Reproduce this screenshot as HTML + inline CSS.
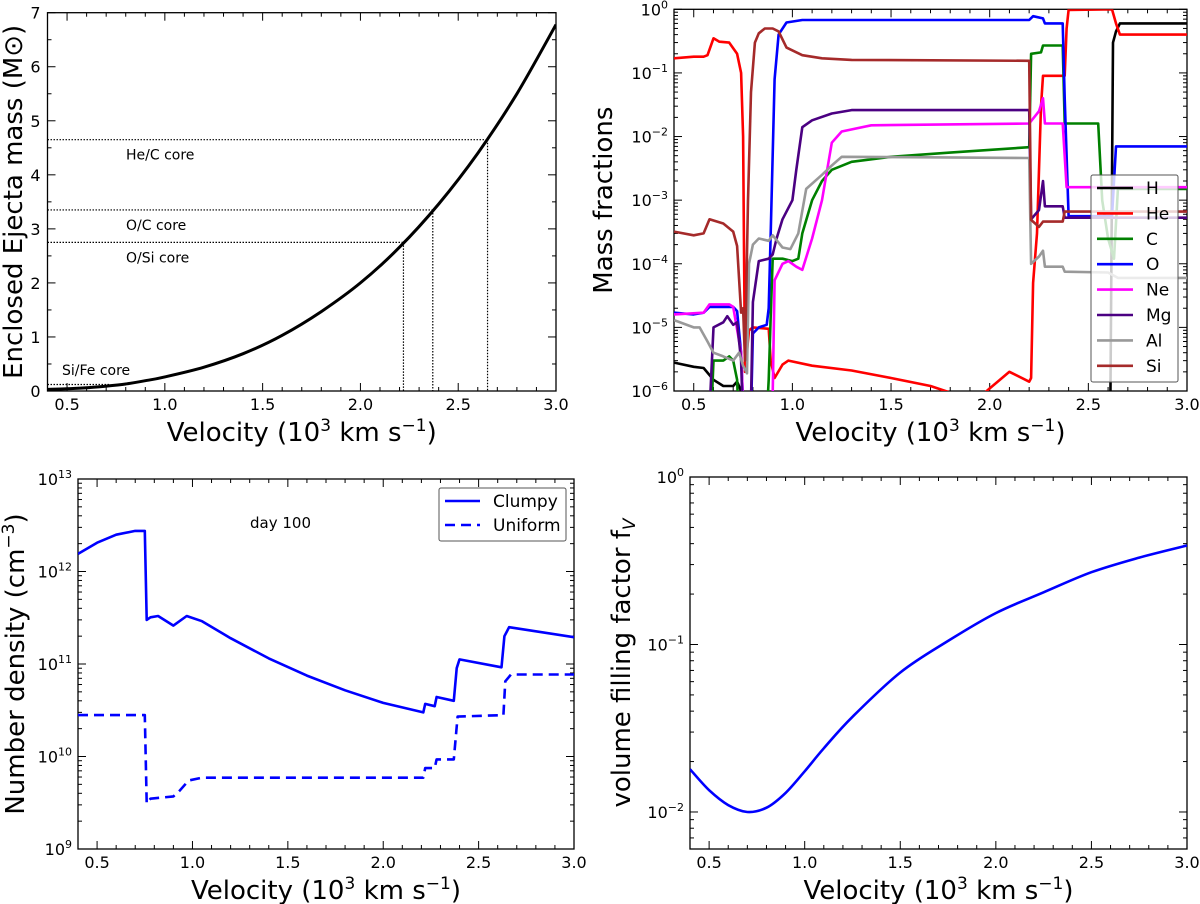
<!DOCTYPE html>
<html><head><meta charset="utf-8">
<style>
html,body{margin:0;padding:0;background:#fff;}
svg{display:block;font-family:"DejaVu Sans","Liberation Sans",sans-serif;}
</style></head>
<body>
<svg id="fig" width="1200" height="904" viewBox="0 0 1200 904" xmlns="http://www.w3.org/2000/svg"></svg>
<script>
// ---------- Panel 1: enclosed mass ----------
const massV = [0.4,0.5,0.6,0.7,0.8,0.9,1.0,1.2,1.4,1.6,1.8,2.0,2.2,2.4,2.6,2.8,3.0];
const massM = [0.03,0.04,0.06,0.09,0.13,0.19,0.26,0.44,0.69,1.03,1.47,2.0,2.66,3.46,4.4,5.5,6.78];
const coreNames = ["He/C core","O/C core","O/Si core"];
const coreV = [2.65,2.37,2.22];
const coreM = [4.65,3.35,2.75];
const siFeV = 0.72;
const siFeM = 0.12;
// ---------- Panel 2: mass fractions ----------
const elemNames = ["H","He","C","O","Ne","Mg","Al","Si"];
const hV = [0.4,0.5,0.55,0.6,0.65,0.7,0.72,0.74,0.76,2.61,2.625,2.64,2.66,3.0];
const hX = [2.8e-6,2.4e-6,2.3e-6,1.5e-6,1.2e-6,1.2e-6,1.4e-6,1e-6,1e-7,1e-7,0.3,0.45,0.6,0.6];
const heV = [0.4,0.5,0.55,0.57,0.6,0.63,0.68,0.72,0.74,0.75,0.76,0.78,0.8,0.88,0.89,0.91,0.95,0.98,1.1,1.3,1.5,1.7,1.82,1.95,2.0,2.1,2.2,2.21,2.22,2.24,2.26,2.27,2.38,2.39,2.4,2.62,2.64,2.66,3.0];
const heX = [0.17,0.18,0.18,0.19,0.35,0.31,0.30,0.20,0.10,0.01,2e-6,9e-6,1e-5,9.5e-6,3e-6,1.6e-6,2.6e-6,3e-6,2.5e-6,2.1e-6,1.6e-6,1.2e-6,9e-7,8e-7,1.1e-6,2e-6,1.4e-6,1.6e-6,5e-5,3e-4,0.03,0.09,0.09,0.5,0.98,1.0,0.6,0.4,0.4];
const cV = [0.58,0.6,0.65,0.68,0.7,0.72,0.735,0.86,0.88,0.89,0.9,0.95,1.0,1.03,1.05,1.1,1.15,1.2,1.3,1.5,1.8,2.2,2.21,2.26,2.27,2.37,2.38,2.55,2.57,2.6,2.63,2.65,3.0];
const cX = [1e-7,3e-6,3e-6,3.5e-6,3e-6,1.5e-6,1e-7,1e-7,1.5e-6,1.5e-5,1.2e-4,1.2e-4,1.1e-4,1.2e-4,3e-4,1e-3,2e-3,3e-3,4e-3,4.8e-3,5.6e-3,6.8e-3,0.2,0.21,0.27,0.27,0.016,0.016,1e-3,2.5e-4,1.2e-4,1.5e-3,1.5e-3];
const oV = [0.4,0.5,0.55,0.58,0.7,0.72,0.74,0.76,0.785,0.8,0.83,0.87,0.88,0.89,0.91,0.93,0.97,1.05,2.2,2.22,2.27,2.28,2.37,2.38,2.4,2.55,2.62,2.64,3.0];
const oX = [1.7e-5,1.6e-5,1.7e-5,2.1e-5,2.1e-5,1.8e-5,4e-6,1e-7,1e-7,8e-6,1e-5,1.1e-5,2e-5,3e-4,0.08,0.4,0.62,0.68,0.68,0.78,0.72,0.6,0.6,0.04,5.6e-4,5.6e-4,5.6e-4,7e-3,7e-3];
const neV = [0.4,0.55,0.58,0.68,0.7,0.74,0.76,0.895,0.91,0.95,0.98,1.02,1.05,1.1,1.15,1.2,1.25,1.4,2.2,2.25,2.27,2.28,2.37,2.39,3.0];
const neX = [1.6e-5,1.7e-5,2.3e-5,2.3e-5,2.1e-5,4e-6,1e-7,1e-7,5.5e-5,1e-4,1.1e-4,9e-5,8e-5,2.5e-4,1e-3,8e-3,1.2e-2,1.5e-2,1.6e-2,2.5e-2,4e-2,1.6e-2,1.6e-2,1.6e-3,1.6e-3];
const mgV = [0.57,0.6,0.65,0.67,0.7,0.72,0.74,0.755,0.785,0.8,0.83,0.88,0.9,0.92,0.95,1.0,1.02,1.05,1.1,1.2,1.3,2.2,2.21,2.25,2.27,2.28,2.37,2.38,3.0];
const mgX = [1e-7,1e-5,1.2e-5,1.5e-5,1.1e-5,1.2e-5,3e-6,1e-7,1e-7,2.5e-5,1.1e-4,1.2e-4,1.4e-4,2.5e-4,5e-4,1e-3,3e-3,1.4e-2,1.8e-2,2.3e-2,2.6e-2,2.6e-2,5e-4,7e-4,2e-3,8e-4,8e-4,5.3e-4,5.3e-4];
const alV = [0.4,0.5,0.53,0.57,0.6,0.65,0.7,0.73,0.75,0.77,0.78,0.8,0.83,0.88,0.9,0.95,0.99,1.03,1.07,1.15,1.2,1.25,2.2,2.21,2.25,2.27,2.28,2.37,2.38,2.6,2.65,3.0];
const alX = [1.3e-5,1e-5,1e-5,6e-6,4e-6,3.5e-6,3e-6,4e-6,2.5e-6,1.9e-6,1e-4,2e-4,2.5e-4,2.3e-4,2.8e-4,1.8e-4,1.7e-4,3e-4,1.5e-3,2.5e-3,3.5e-3,4.8e-3,4.6e-3,1e-4,1.3e-4,1.6e-4,9e-5,9e-5,7.5e-5,7.3e-5,6e-5,6e-5];
const siV = [0.4,0.5,0.55,0.58,0.65,0.7,0.72,0.74,0.75,0.76,0.775,0.79,0.81,0.83,0.86,0.9,0.93,0.97,1.05,1.15,1.3,2.2,2.21,2.25,2.27,2.37,2.38,3.0];
const siX = [3.2e-4,2.8e-4,3e-4,5e-4,4.3e-4,3.2e-4,1.9e-4,1.7e-5,2e-5,3e-6,1e-3,0.05,0.3,0.42,0.5,0.5,0.45,0.25,0.19,0.17,0.16,0.155,4.9e-4,3.8e-4,4.6e-4,4.6e-4,6.6e-4,6.6e-4];
// ---------- Panel 3: number density ----------
const clumpyV = [0.4,0.5,0.6,0.7,0.75,0.76,0.78,0.82,0.9,0.97,1.05,1.2,1.4,1.6,1.8,2.0,2.21,2.22,2.27,2.28,2.37,2.385,2.4,2.62,2.635,2.66,3.0];
const clumpyN = [1.55e12,2.05e12,2.5e12,2.75e12,2.75e12,3e11,3.2e11,3.3e11,2.6e11,3.3e11,2.9e11,1.9e11,1.15e11,7.5e10,5.2e10,3.8e10,3.0e10,3.7e10,3.5e10,4.4e10,4.0e10,9e10,1.12e11,9.2e10,2.0e11,2.5e11,1.95e11];
const uniformV = [0.4,0.75,0.76,0.78,0.9,0.93,0.98,1.05,2.21,2.22,2.27,2.28,2.37,2.39,2.63,2.64,2.67,3.0];
const uniformN = [2.8e10,2.8e10,3.1e9,3.5e9,3.7e9,4.2e9,5.5e9,5.9e9,5.9e9,7.5e9,7.5e9,9.3e9,9.3e9,2.7e10,2.8e10,6.5e10,7.7e10,7.7e10];
// ---------- Panel 4: filling factor ----------
const fillV = [0.4,0.5,0.6,0.7,0.8,0.9,1.0,1.1,1.25,1.5,1.75,2.0,2.25,2.5,2.75,3.0];
const fillF = [0.018,0.0135,0.011,0.0100,0.0106,0.013,0.0175,0.024,0.037,0.068,0.105,0.154,0.205,0.27,0.33,0.39];
const xTicks = [0.5,1.0,1.5,2.0,2.5,3.0];
const xTickLabels = ["0.5","1.0","1.5","2.0","2.5","3.0"];

const NS = "http://www.w3.org/2000/svg";
const svg = document.getElementById('fig');
function mk(tag, attrs, parent){
  const e = document.createElementNS(NS, tag);
  for (const k in attrs) e.setAttribute(k, attrs[k]);
  (parent||svg).appendChild(e);
  return e;
}
function makeAxes(c){
  const g = mk('g', {});
  
  
  c.g = g;
  c.sx = v => c.x0 + (v - c.xmin) / (c.xmax - c.xmin) * (c.x1 - c.x0);
  c.sy = y => {
    const t = c.ylog ? Math.log10(y) : y;
    return c.y1 - (t - c.ymin) / (c.ymax - c.ymin) * (c.y1 - c.y0);
  };
  const cid = 'clip-' + c.name;
  const cp = mk('clipPath', {id: cid}, g);
  mk('rect', {x: c.x0, y: c.y0, width: c.x1 - c.x0, height: c.y1 - c.y0}, cp);
  c.clip = 'url(#' + cid + ')';
  const tg = mk('g', {stroke: '#000', 'stroke-width': 1}, g);
  
  
  for (let v = 0.4; v <= 3.0001; v += 0.1) {
    const px = c.sx(v);
    const maj = xTicks.some(t => Math.abs(t - v) < 1e-6);
    const L = maj ? 8 : 4;
    mk('line', {x1: px, x2: px, y1: c.y1, y2: c.y1 - L}, tg);
    mk('line', {x1: px, x2: px, y1: c.y0, y2: c.y0 + L}, tg);
  }
  xTicks.forEach((t, i) => {
    const tx = mk('text', {x: c.sx(t), y: c.y1 + 19, 'font-size': 16, 'text-anchor': 'middle'}, g);
    
    
    tx.textContent = xTickLabels[i];
  });
  if (!c.ylog) {
    for (let y = c.ymin; y <= c.ymax + 1e-6; y += 0.5) {
      const py = c.sy(y);
      const maj = Math.abs(y - Math.round(y)) < 1e-6;
      const L = maj ? 8 : 4;
      mk('line', {x1: c.x0, x2: c.x0 + L, y1: py, y2: py}, tg);
      mk('line', {x1: c.x1, x2: c.x1 - L, y1: py, y2: py}, tg);
      if (maj) {
        const tx = mk('text', {x: c.x0 - 7, y: py + 6, 'font-size': 16, 'text-anchor': 'end'}, g);
        
        
        tx.textContent = String(y);
      }
    }
  } else {
    for (let d = Math.floor(c.ymin); d <= c.ymax; d++) {
      for (let m = 1; m <= 9; m++) {
        const t = d + Math.log10(m);
        if (t < c.ymin - 1e-6 || t > c.ymax + 1e-6) continue;
        const py = c.sy(Math.pow(10, t));
        const L = m === 1 ? 8 : 4;
        mk('line', {x1: c.x0, x2: c.x0 + L, y1: py, y2: py}, tg);
        mk('line', {x1: c.x1, x2: c.x1 - L, y1: py, y2: py}, tg);
        if (m === 1) {
          const tx = mk('text', {x: c.x0 - 6, y: py + 6, 'font-size': 16, 'text-anchor': 'end'}, g);
          
          
          tx.appendChild(document.createTextNode('10'));
          const sp = mk('tspan', {dy: -7, 'font-size': 11}, tx);
          sp.textContent = d === 0 ? '0' : (d < 0 ? '\u2212' + (-d) : String(d));
        }
      }
    }
  }
  const fr = mk('rect', {x: c.x0, y: c.y0, width: c.x1 - c.x0, height: c.y1 - c.y0, fill: 'none', stroke: '#000', 'stroke-width': 1.3}, g);
  
  
  const xl = mk('text', {x: (c.x0 + c.x1) / 2, y: c.y1 + 50, 'font-size': 26, 'text-anchor': 'middle'}, g);
  
  
  xl.appendChild(document.createTextNode('Velocity (10'));
  let s1 = mk('tspan', {dy: -10, 'font-size': 17}, xl); s1.textContent = '3';
  let s2 = mk('tspan', {dy: 10}, xl); s2.textContent = ' km s';
  let s3 = mk('tspan', {dy: -10, 'font-size': 17}, xl); s3.textContent = '\u22121';
  let s4 = mk('tspan', {dy: 10}, xl); s4.textContent = ')';
  const yc = (c.y0 + c.y1) / 2;
  const yl = mk('text', {x: 0, y: 0, 'font-size': 26, 'text-anchor': 'middle', transform: 'translate(' + c.ylx + ',' + yc + ') rotate(-90)'}, g);
  
  
  c.ylabel(yl);
  return c;
}
function line(c, vs, ys, color, name, extra, smooth){
  const n = Math.min(vs.length, ys.length);
  const P = [];
  for (let i = 0; i < n; i++) P.push([c.sx(vs[i]), c.sy(ys[i])]);
  let d = 'M' + P[0][0].toFixed(1) + ',' + P[0][1].toFixed(1);
  for (let i = 1; i < n; i++) {
    if (smooth) {
      const p0 = P[Math.max(0, i - 2)], p1 = P[i - 1], p2 = P[i], p3 = P[Math.min(n - 1, i + 1)];
      const c1x = p1[0] + (p2[0] - p0[0]) / 6, c1y = p1[1] + (p2[1] - p0[1]) / 6;
      const c2x = p2[0] - (p3[0] - p1[0]) / 6, c2y = p2[1] - (p3[1] - p1[1]) / 6;
      d += 'C' + c1x.toFixed(1) + ',' + c1y.toFixed(1) + ' ' + c2x.toFixed(1) + ',' + c2y.toFixed(1) + ' ' + p2[0].toFixed(1) + ',' + p2[1].toFixed(1);
    } else {
      d += 'L' + P[i][0].toFixed(1) + ',' + P[i][1].toFixed(1);
    }
  }
  const attrs = {d: d, fill: 'none', stroke: color, 'stroke-width': 2.6, 'stroke-linejoin': 'round', 'clip-path': c.clip};
  for (const k in (extra || {})) attrs[k] = extra[k];
  const p = mk('path', attrs, c.g);
  
  
  return p;
}
function txt(parent, x, y, s, size, name, anchor){
  const t = mk('text', {x: x, y: y, 'font-size': size, 'text-anchor': anchor || 'start'}, parent);
  
  
  t.textContent = s;
  return t;
}

// ===== Panel 1 =====
const p1 = makeAxes({name: 'panel-enclosed-mass', x0: 47.5, x1: 556, y0: 12.7, y1: 391, xmin: 0.4, xmax: 3.0, ymin: 0, ymax: 7, ylog: false, ylx: 22,
  ylabel: t => { t.textContent = 'Enclosed Ejecta mass (M\u2299)'; }});
coreV.forEach((v, i) => {
  const hl = mk('line', {x1: p1.sx(0.4), x2: p1.sx(v), y1: p1.sy(coreM[i]), y2: p1.sy(coreM[i]), stroke: '#000', 'stroke-width': 1.2, 'stroke-dasharray': '1.5,1.5'}, p1.g);
  
  
  const vl = mk('line', {x1: p1.sx(v), x2: p1.sx(v), y1: p1.sy(coreM[i]), y2: p1.sy(0), stroke: '#000', 'stroke-width': 1.2, 'stroke-dasharray': '1.5,1.5'}, p1.g);
  
  
  txt(p1.g, 126, p1.sy(coreM[i]) + 20, coreNames[i], 14, 'core-label');
});
const sf = mk('line', {x1: p1.sx(0.4), x2: p1.sx(siFeV), y1: p1.sy(siFeM), y2: p1.sy(siFeM), stroke: '#000', 'stroke-width': 1.2, 'stroke-dasharray': '1.5,1.5'}, p1.g);


txt(p1.g, 62, 375, 'Si/Fe core', 14, 'core-label');
line(p1, massV, massM, '#000', 'mass-curve', {'stroke-width': 3}, true);

// ===== Panel 2 =====
const p2 = makeAxes({name: 'panel-mass-fractions', x0: 674, x1: 1187, y0: 9.3, y1: 391, xmin: 0.4, xmax: 3.0, ymin: -6, ymax: 0, ylog: true, ylx: 612,
  ylabel: t => { t.textContent = 'Mass fractions'; }});
const elemColors = ['#000000', '#ff0000', '#008000', '#0000ff', '#ff00ff', '#4b0082', '#999999', '#a52a2a'];
const elemV = [hV, heV, cV, oV, neV, mgV, alV, siV];
const elemX = [hX, heX, cX, oX, neX, mgX, alX, siX];
elemNames.forEach((n, i) => line(p2, elemV[i], elemX[i], elemColors[i], 'series-' + n.toLowerCase()));
const lg2 = mk('g', {}, p2.g);


mk('rect', {x: 1091, y: 175, width: 87, height: 207, fill: 'rgba(255,255,255,0.8)', stroke: '#555', 'stroke-width': 1, rx: 2}, lg2);
elemNames.forEach((n, i) => {
  const yy = 188 + i * 25.4;
  const ln = mk('line', {x1: 1097, x2: 1133, y1: yy, y2: yy, stroke: elemColors[i], 'stroke-width': 2.6}, lg2);
  
  
  txt(lg2, 1146, yy + 6, n, 17, 'legend-entry');
});

// ===== Panel 3 =====
const p3 = makeAxes({name: 'panel-number-density', x0: 78, x1: 574, y0: 479, y1: 849, xmin: 0.4, xmax: 3.0, ymin: 9, ymax: 13, ylog: true, ylx: 24,
  ylabel: t => {
    t.appendChild(document.createTextNode('Number density (cm'));
    const a = mk('tspan', {dy: -10, 'font-size': 17}, t); a.textContent = '\u22123';
    const b = mk('tspan', {dy: 10}, t); b.textContent = ')';
  }});
line(p3, clumpyV, clumpyN, '#0000ff', 'series-clumpy');
line(p3, uniformV, uniformN, '#0000ff', 'series-uniform', {'stroke-dasharray': '10,6'});
txt(p3.g, 250, 528, 'day 100', 15, 'day-annotation');
const lg3 = mk('g', {}, p3.g);


mk('rect', {x: 439, y: 488, width: 127, height: 53, fill: '#fff', stroke: '#555', 'stroke-width': 1, rx: 2}, lg3);
const l1 = mk('line', {x1: 445, x2: 480, y1: 501, y2: 501, stroke: '#00f', 'stroke-width': 2.6}, lg3);


const l2 = mk('line', {x1: 445, x2: 480, y1: 525, y2: 525, stroke: '#00f', 'stroke-width': 2.6, 'stroke-dasharray': '10,6'}, lg3);


txt(lg3, 493, 507, 'Clumpy', 17, 'legend-entry');
txt(lg3, 493, 531, 'Uniform', 17, 'legend-entry');

// ===== Panel 4 =====
const p4 = makeAxes({name: 'panel-filling-factor', x0: 690, x1: 1187, y0: 477, y1: 849, xmin: 0.4, xmax: 3.0, ymin: -2.221, ymax: 0, ylog: true, ylx: 630,
  ylabel: t => {
    t.appendChild(document.createTextNode('volume filling factor f'));
    const a = mk('tspan', {dy: 5, 'font-size': 17, 'font-style': 'italic'}, t); a.textContent = 'V';
  }});
line(p4, fillV, fillF, '#0000ff', 'series-filling-factor', {}, true);
</script>
</body></html>
